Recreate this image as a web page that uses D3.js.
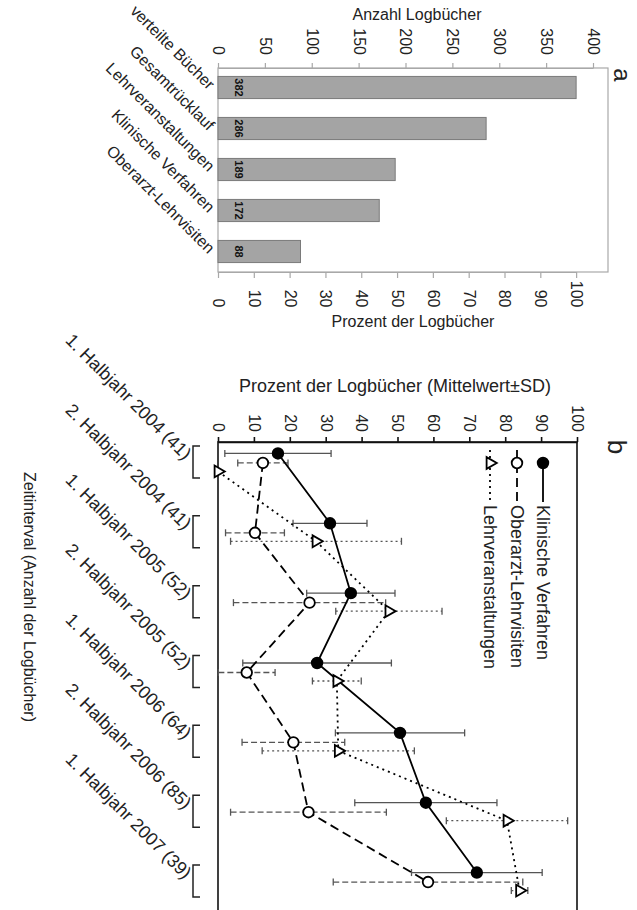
<!DOCTYPE html>
<html>
<head>
<meta charset="utf-8">
<script src="https://cdnjs.cloudflare.com/ajax/libs/d3/7.8.5/d3.min.js"></script>
<style>
    body { margin: 0; background: #fff; }
    svg { display: block; font-family: "Liberation Sans", Arial, sans-serif; }
</style>
</head>
<body>
<svg id="chart" width="637" height="910"></svg>
<script>

//panel a - logbook counts
var book_categories = ["verteilte Bücher", "Gesamtrücklauf", "Lehrveranstaltungen", "Klinische Verfahren", "Oberarzt-Lehrvisiten"];
var book_counts = [382, 286, 189, 172, 88];
var count_ticks = [0, 50, 100, 150, 200, 250, 300, 350, 400];
var percent_ticks = [0, 10, 20, 30, 40, 50, 60, 70, 80, 90, 100];

//panel b - percent per half year (mean and SD)
var intervals = ["1. Halbjahr 2004 (41)", "2. Halbjahr 2004 (41)", "1. Halbjahr 2005 (52)", "2. Halbjahr 2005 (52)",
                 "1. Halbjahr 2006 (64)", "2. Halbjahr 2006 (85)", "1. Halbjahr 2007 (39)"];
var kv_mean = [16.7, 31.2, 37.0, 27.6, 50.7, 57.9, 72.1];
var kv_sd   = [14.8, 10.3, 12.3, 20.7, 18.0, 19.8, 18.2];
var oa_mean = [12.5, 10.3, 25.5, 8.0, 21.0, 25.2, 58.5];
var oa_sd   = [7.0, 8.2, 21.2, 7.9, 14.3, 21.7, 26.4];
var lv_mean = [0, 27.3, 47.6, 33.1, 33.5, 80.5, 84.0];
var lv_sd   = [0, 23.8, 14.8, 6.8, 21.2, 16.9, 2.3];
var series_names = ["Klinische Verfahren", "Oberarzt-Lehrvisiten", "Lehrveranstaltungen"];
var mean_ticks = [0, 10, 20, 30, 40, 50, 60, 70, 80, 90, 100];

var svg = d3.select("#chart");

//rotate axis labels so they read top to bottom
function rotate_ticks(g, offset, anchor) {
    g.attr("font-size", 16).attr("font-family", null);
    g.selectAll(".tick text")
        .attr("transform", "rotate(90)")
        .attr("x", offset)
        .attr("y", 0)
        .attr("dy", "0.35em")
        .attr("text-anchor", anchor)
        .attr("fill", "#222");
}

// ---------- panel a ----------
var a_left = 218, a_right = 608, a_top = 68, a_bottom = 272;

var count_scale = d3.scaleLinear().domain([0, 400]).range([a_left, 593]);
var pct_scale = d3.scaleLinear().domain([0, 100]).range([count_scale(0), count_scale(book_counts[0])]);
var band_scale = d3.scaleBand().domain(book_categories).range([67, 272]).paddingInner(0.46).paddingOuter(0.23);

var panel_a = svg.append("g").attr("class", "panel_a");

panel_a.append("rect")
    .attr("x", a_left).attr("y", a_top)
    .attr("width", a_right - a_left).attr("height", a_bottom - a_top)
    .attr("fill", "none").attr("stroke", "#a8a8a8").attr("stroke-width", 1.2);

var top_axis = panel_a.append("g")
    .attr("transform", "translate(0," + a_top + ")")
    .call(d3.axisTop(count_scale).tickValues(count_ticks).tickSize(5).tickSizeOuter(0));
top_axis.selectAll("path, line").attr("stroke", "#a8a8a8").attr("stroke-width", 1.2);
rotate_ticks(top_axis, -13, "end");

var bottom_axis = panel_a.append("g")
    .attr("transform", "translate(0," + a_bottom + ")")
    .call(d3.axisBottom(pct_scale).tickValues(percent_ticks).tickSize(6).tickSizeOuter(0));
bottom_axis.selectAll("path, line").attr("stroke", "#a8a8a8").attr("stroke-width", 1.2);
rotate_ticks(bottom_axis, 35.5, "end");

panel_a.selectAll(".bar")
    .data(book_counts)
    .enter().append("rect")
    .attr("class", "bar")
    .attr("x", count_scale(0))
    .attr("y", (d, i) => band_scale(book_categories[i]))
    .attr("width", d => count_scale(d) - count_scale(0))
    .attr("height", band_scale.bandwidth())
    .attr("fill", "#a4a4a4")
    .attr("stroke", "#7a7a7a")
    .attr("stroke-width", 1);

//value labels inside bars
panel_a.selectAll(".bar_label")
    .data(book_counts)
    .enter().append("text")
    .attr("class", "bar_label")
    .attr("transform", (d, i) => "translate(" + (count_scale(0) + 21) + "," + (band_scale(book_categories[i]) + band_scale.bandwidth() / 2) + ") rotate(90)")
    .attr("text-anchor", "middle")
    .attr("dy", "0.35em")
    .attr("font-size", 11)
    .attr("font-weight", "bold")
    .attr("font-family", "'Liberation Sans Narrow', 'Arial Narrow', sans-serif")
    .attr("fill", "#111")
    .text(d => d);

//slanted category labels
panel_a.selectAll(".cat_label")
    .data(book_categories)
    .enter().append("text")
    .attr("class", "cat_label")
    .attr("transform", d => "translate(" + (a_left - 10) + "," + (band_scale(d) + band_scale.bandwidth() / 2 + 3) + ") rotate(45)")
    .attr("text-anchor", "end")
    .attr("font-size", 16)
    .attr("fill", "#222")
    .text(d => d);

panel_a.append("text")
    .attr("x", 417).attr("y", 20)
    .attr("text-anchor", "middle").attr("font-size", 16).attr("fill", "#222")
    .text("Anzahl Logbücher");

panel_a.append("text")
    .attr("x", 413).attr("y", 327)
    .attr("text-anchor", "middle").attr("font-size", 16).attr("fill", "#222")
    .text("Prozent der Logbücher");

panel_a.append("text")
    .attr("transform", "translate(620,75) rotate(90)")
    .attr("text-anchor", "middle").attr("dy", "0.26em")
    .attr("font-size", 24).attr("fill", "#222")
    .text("a");

// ---------- panel b ----------
var b_left = 218, b_right = 577, b_top = 442, b_bottom = 914;

var mean_scale = d3.scaleLinear().domain([0, 100]).range([b_left, b_right]);
var interval_scale = d3.scaleBand().domain(intervals).range([427, 916]);
var dodge = [-8.5, 1, 9.5];

var panel_b = svg.append("g").attr("class", "panel_b");

panel_b.append("rect")
    .attr("x", b_left).attr("y", b_top)
    .attr("width", b_right - b_left).attr("height", b_bottom - b_top)
    .attr("fill", "none").attr("stroke", "#111").attr("stroke-width", 1.6);

var b_axis = panel_b.append("g")
    .attr("transform", "translate(0," + b_top + ")")
    .call(d3.axisTop(mean_scale).tickValues(mean_ticks).tickSize(5).tickSizeOuter(0));
b_axis.selectAll("path, line").attr("stroke", "#111").attr("stroke-width", 1.6);
rotate_ticks(b_axis, -10, "end");

panel_b.append("text")
    .attr("x", 395).attr("y", 392)
    .attr("text-anchor", "middle").attr("font-size", 18).attr("fill", "#222")
    .text("Prozent der Logbücher (Mittelwert±SD)");

//brackets at each interval
panel_b.selectAll(".bracket")
    .data(intervals)
    .enter().append("path")
    .attr("class", "bracket")
    .attr("d", d => {
        var c = interval_scale(d) + interval_scale.bandwidth() / 2;
        return "M200," + (c - 16) + "H193V" + (c + 16) + "H200";
    })
    .attr("fill", "none").attr("stroke", "#222").attr("stroke-width", 1.5);

panel_b.selectAll(".int_label")
    .data(intervals)
    .enter().append("text")
    .attr("class", "int_label")
    .attr("transform", d => "translate(184," + (interval_scale(d) + interval_scale.bandwidth() / 2 - 1) + ") rotate(45)")
    .attr("text-anchor", "end")
    .attr("font-size", 18)
    .attr("fill", "#222")
    .text(d => d);

panel_b.append("text")
    .attr("transform", "translate(30,597) rotate(90)")
    .attr("text-anchor", "middle").attr("dy", "0.35em")
    .attr("font-size", 16).attr("fill", "#222")
    .text("Zeitinterval (Anzahl der Logbücher)");

panel_b.append("text")
    .attr("transform", "translate(617,447) rotate(90)")
    .attr("text-anchor", "middle").attr("dy", "0.35em")
    .attr("font-size", 26).attr("fill", "#222")
    .text("b");

//series setup
var all_series = [
    {name: series_names[0], mean: kv_mean, sd: kv_sd, line_dash: null, err_dash: null, marker: "filled"},
    {name: series_names[1], mean: oa_mean, sd: oa_sd, line_dash: "9,5", err_dash: "6,3", marker: "open"},
    {name: series_names[2], mean: lv_mean, sd: lv_sd, line_dash: "2,4", err_dash: "2,3", marker: "triangle"}
];

function y_pos(i, s) {
    return interval_scale(intervals[i]) + interval_scale.bandwidth() / 2 + dodge[s];
}

//error bars
all_series.forEach(function(ser, s) {
    var g = panel_b.append("g").attr("class", "err_group");
    ser.mean.forEach(function(m, i) {
        if (ser.sd[i] === 0) return;
        var y = y_pos(i, s);
        var x1 = mean_scale(m - ser.sd[i]), x2 = mean_scale(m + ser.sd[i]);
        g.append("line").attr("x1", x1).attr("x2", x2).attr("y1", y).attr("y2", y)
            .attr("stroke", "#555").attr("stroke-width", 1.3).attr("stroke-dasharray", ser.err_dash);
        [x1, x2].forEach(function(x) {
            g.append("line").attr("x1", x).attr("x2", x).attr("y1", y - 3.5).attr("y2", y + 3.5)
                .attr("stroke", "#555").attr("stroke-width", 1.3);
        });
    });
});

//connecting lines
all_series.forEach(function(ser, s) {
    var line = d3.line()
        .x(d => mean_scale(d))
        .y((d, i) => y_pos(i, s));
    panel_b.append("path")
        .datum(ser.mean)
        .attr("d", line)
        .attr("fill", "none")
        .attr("stroke", "#000")
        .attr("stroke-width", 1.8)
        .attr("stroke-dasharray", ser.line_dash);
});

function draw_marker(g, type, x, y) {
    if (type === "triangle") {
        g.append("path")
            .attr("d", d3.symbol().type(d3.symbolTriangle).size(60)())
            .attr("transform", "translate(" + x + "," + y + ") rotate(90)")
            .attr("fill", "#fff").attr("stroke", "#000").attr("stroke-width", 1.8);
    } else {
        g.append("circle")
            .attr("cx", x).attr("cy", y).attr("r", 5.3)
            .attr("fill", type === "filled" ? "#000" : "#fff")
            .attr("stroke", "#000").attr("stroke-width", 1.8);
    }
}

//markers
all_series.forEach(function(ser, s) {
    var g = panel_b.append("g").attr("class", "marker_group");
    ser.mean.forEach(function(m, i) {
        draw_marker(g, ser.marker, mean_scale(m), y_pos(i, s));
    });
});

//legend
var legend_x = [543, 517, 490];
all_series.forEach(function(ser, s) {
    var g = panel_b.append("g").attr("class", "legend_item");
    g.append("line")
        .attr("x1", legend_x[s]).attr("x2", legend_x[s])
        .attr("y1", s === 0 ? 463 : 450).attr("y2", 502)
        .attr("stroke", "#000").attr("stroke-width", 1.8)
        .attr("stroke-dasharray", ser.line_dash);
    draw_marker(g, ser.marker, legend_x[s], 463);
    g.append("text")
        .attr("transform", "translate(" + legend_x[s] + ",505) rotate(90)")
        .attr("dy", "0.35em")
        .attr("font-size", 18)
        .attr("fill", "#222")
        .text(ser.name);
});

</script>
</body>
</html>
